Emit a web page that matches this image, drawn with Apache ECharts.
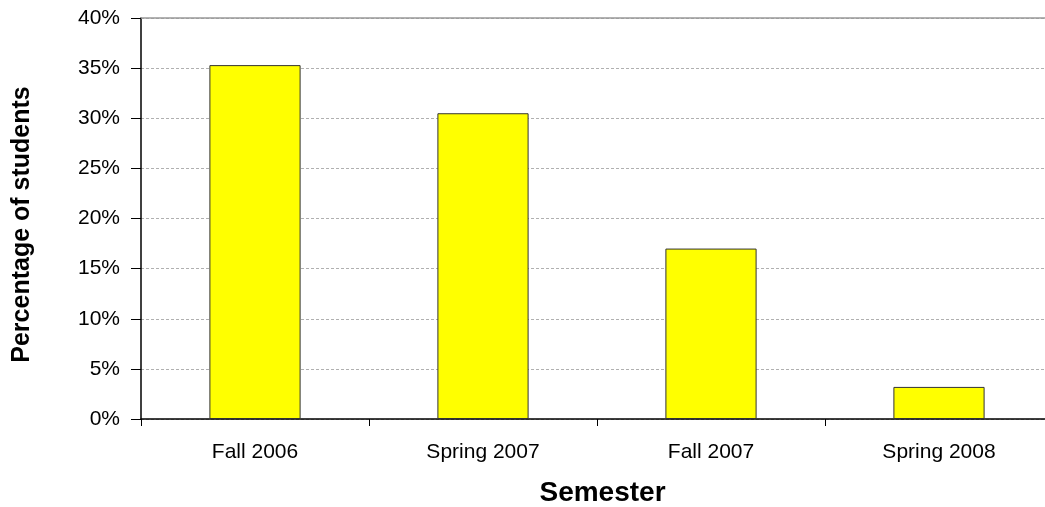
<!DOCTYPE html>
<html>
<head>
<meta charset="utf-8">
<script src="https://cdn.jsdelivr.net/npm/echarts@6/dist/echarts.min.js"></script>
<style>
  html, body { margin: 0; padding: 0; background: #fff; }
  #chart { width: 1045px; height: 507px; }
</style>
</head>
<body>
<div id="chart"></div>
<script>
// Share of students per semester
const semesters = ['Fall 2006', 'Spring 2007', 'Fall 2007', 'Spring 2008'];
const percentages = [35.3, 30.5, 17.0, 3.2];
const yTicks = { min: 0, max: 40, step: 5 };

const chart = echarts.init(document.getElementById('chart'), null, { renderer: 'canvas' });
const font = '"Liberation Sans", Arial, sans-serif';

chart.setOption({
  animation: false,
  textStyle: { fontFamily: font },
  grid: { left: 141, top: 18, height: 401, width: 912, containLabel: false, outerBoundsMode: 'none' },
  xAxis: {
    type: 'category',
    data: semesters,
    name: 'Semester',
    nameLocation: 'middle',
    nameGap: 60,
    nameTextStyle: { fontSize: 28, fontWeight: 'bold', color: '#000', fontFamily: font, padding: [0, 0, 0, 11] },
    axisLine: { lineStyle: { color: '#000', width: 1.5 } },
    axisTick: { show: true, alignWithLabel: false, length: 7, lineStyle: { color: '#000' } },
    axisLabel: { fontSize: 21, color: '#000', margin: 23, fontFamily: font }
  },
  yAxis: {
    type: 'value',
    min: yTicks.min,
    max: yTicks.max,
    interval: yTicks.step,
    name: 'Percentage of students',
    nameLocation: 'middle',
    nameGap: 106,
    nameTextStyle: { fontSize: 25, fontWeight: 'bold', color: '#000', fontFamily: font, padding: [0, 12, 0, 0] },
    axisLine: { show: true, lineStyle: { color: '#000', width: 1.5 } },
    axisTick: { show: true, length: 10, lineStyle: { color: '#000' } },
    axisLabel: { fontSize: 21, color: '#000', margin: 21, formatter: '{value}%', fontFamily: font },
    splitLine: { show: true, lineStyle: { color: '#b0b0b0', type: [3, 2], width: 1 } }
  },
  series: [{
    type: 'bar',
    data: percentages,
    barWidth: '40%',
    itemStyle: { color: '#ffff00', borderColor: '#333', borderWidth: 1 },
    markLine: {
      silent: true,
      symbol: 'none',
      label: { show: false },
      lineStyle: { color: '#999', type: 'solid', width: 1.5 },
      data: [{ yAxis: yTicks.max }]
    }
  }]
});
</script>
</body>
</html>
